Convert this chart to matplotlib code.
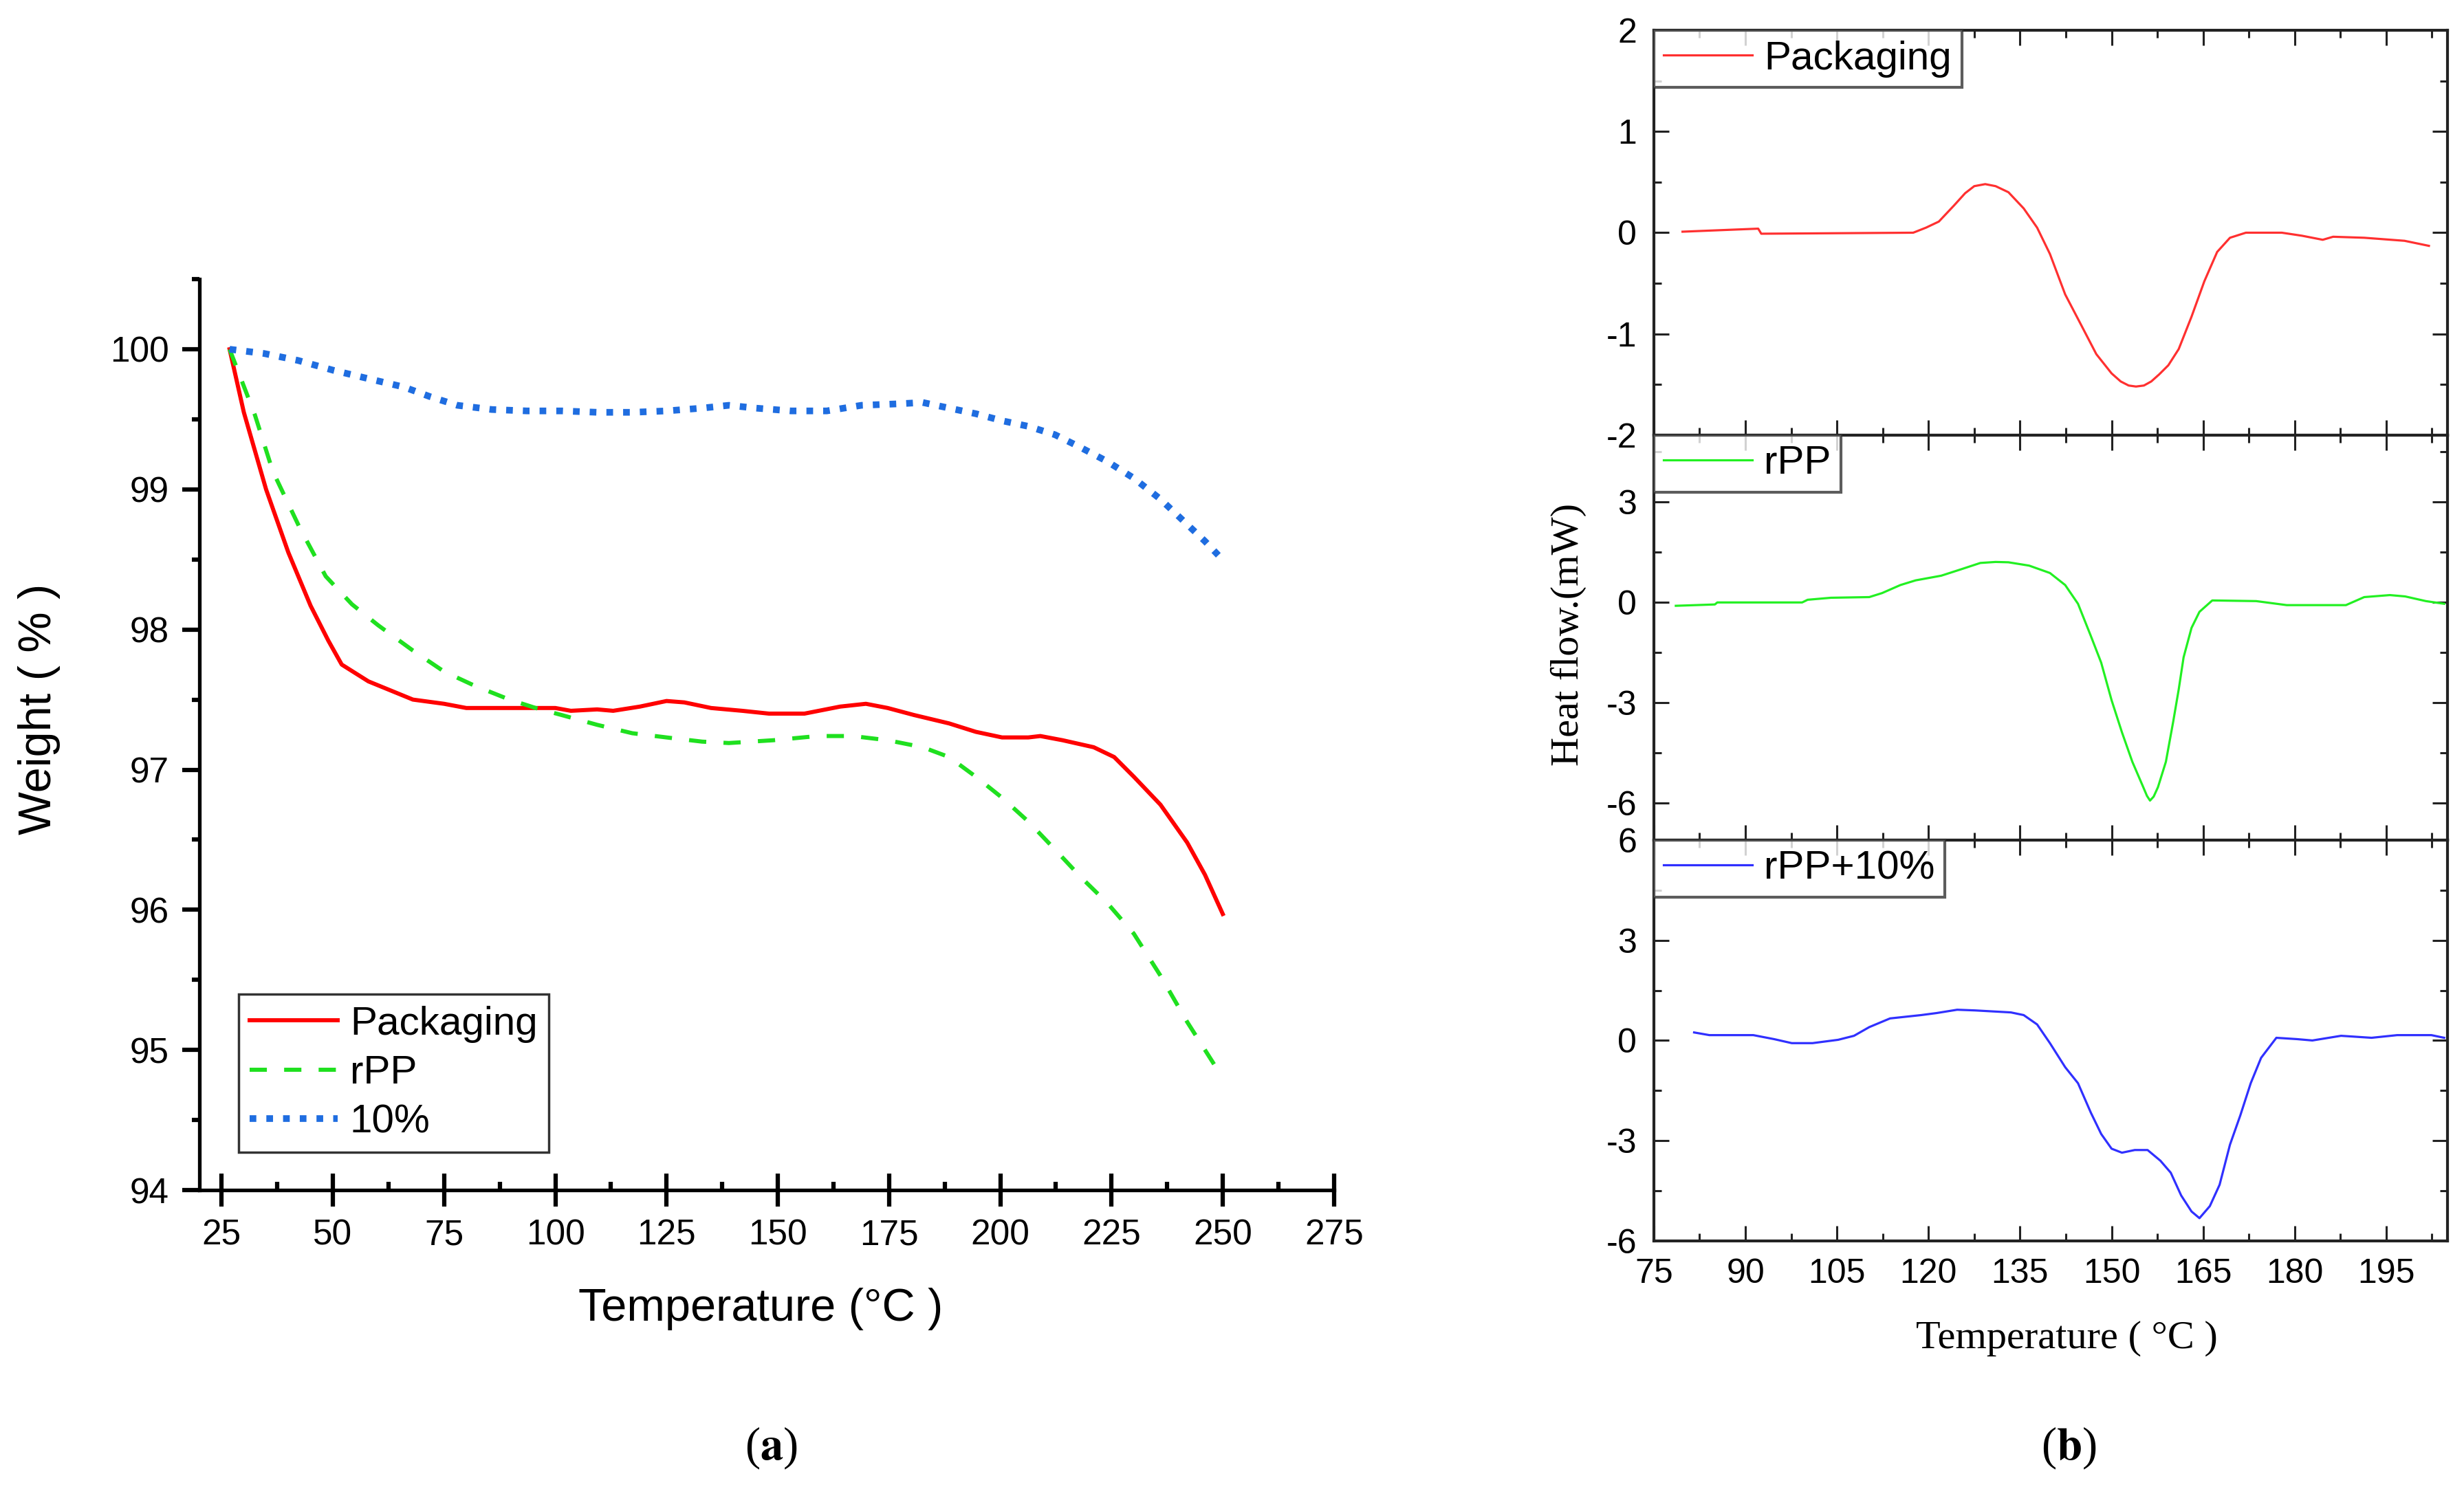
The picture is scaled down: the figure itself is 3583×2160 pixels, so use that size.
import numpy as np
import matplotlib
matplotlib.use("Agg")
import matplotlib.pyplot as plt
from matplotlib.ticker import MultipleLocator

plt.rcParams['axes.unicode_minus'] = False
plt.rcParams['mathtext.fontset'] = 'stix'

SANS = 'Liberation Sans'
SERIF = 'Liberation Serif'

# ---- (a) TGA data ----
pack_t = [26.8, 30, 35, 40, 45, 49, 52, 58, 68, 75, 80, 90, 100, 103.5, 109.4, 113, 119, 125,
          129, 135, 142, 148, 156, 164, 169.8, 174.7, 180.6, 188.5, 194.5, 200.4, 206.3, 209,
          214, 221, 225.6, 230, 236, 242, 246, 250]
pack_w = [100.0, 99.55, 99.0, 98.55, 98.17, 97.92, 97.75, 97.63, 97.5, 97.47, 97.44, 97.44, 97.44,
          97.42, 97.43, 97.42, 97.45, 97.49, 97.48, 97.44, 97.42, 97.40, 97.40, 97.45, 97.47,
          97.44, 97.39, 97.33, 97.27, 97.23, 97.23, 97.24, 97.21, 97.16, 97.09, 96.95, 96.75,
          96.48, 96.25, 95.97]

rpp_t = [26.8, 32.5, 36.5, 42.5, 48.4, 54.3, 60.2, 68, 75, 81.8, 89.7, 95.6, 101.4, 109.4, 117.3,
         125, 133, 139, 149, 158.9, 166.8, 174.7, 182.6, 188.5, 194.5, 200.4, 206.3, 212.3,
         218.2, 224, 230, 236, 242, 246, 250]
rpp_w = [100.0, 99.53, 99.13, 98.73, 98.38, 98.18, 98.03, 97.85, 97.70, 97.6, 97.5, 97.44, 97.39,
         97.32, 97.26, 97.23, 97.20, 97.19, 97.21, 97.24, 97.24, 97.21, 97.16, 97.09, 96.95,
         96.80, 96.63, 96.43, 96.23, 96.05, 95.83, 95.53, 95.2, 95.0, 94.8]

ten_t = [26.8, 34.5, 42.2, 50.1, 58, 66, 72, 78, 85.7, 93.6, 101.5, 109.5, 117.3, 125, 133, 139,
         145, 153, 161, 168.8, 176.7, 182.6, 188.5, 194.5, 200.4, 206.3, 212.3, 218, 224, 230,
         236, 242, 246, 249]
ten_w = [100.0, 99.97, 99.92, 99.85, 99.79, 99.73, 99.66, 99.6, 99.57, 99.56, 99.56, 99.55, 99.55,
         99.56, 99.58, 99.6, 99.58, 99.56, 99.56, 99.6, 99.61, 99.62, 99.58, 99.54, 99.49, 99.45,
         99.39, 99.30, 99.2, 99.08, 98.93, 98.75, 98.63, 98.53]

# ---- (b) DSC data ----
dsc_pack_t = [79.7, 92.1, 92.6, 117.5, 119.6, 121.7, 124.2, 126, 127.5, 129.3, 131, 133.1, 135.6,
              137.8, 139.9, 142.4, 145, 147.5, 150, 151.5, 152.8, 154, 155.3, 156.5, 157.8,
              159.3, 161, 163.1, 165.2, 167.3, 169.4, 172, 177.9, 181.2, 184.6, 186.3, 191.4,
              198, 202]
dsc_pack_h = [0.01, 0.04, -0.01, 0.0, 0.05, 0.11, 0.27, 0.39, 0.46, 0.48, 0.46, 0.40, 0.24, 0.05,
              -0.21, -0.61, -0.91, -1.2, -1.39, -1.47, -1.51, -1.52, -1.51, -1.47, -1.40, -1.31,
              -1.15, -0.83, -0.48, -0.19, -0.05, 0.0, 0.0, -0.03, -0.07, -0.04, -0.05, -0.08,
              -0.13]

dsc_rpp_t = [78.6, 85, 85.4, 99.3, 100.2, 104, 110.3, 112.4, 115.4, 117.9, 122.1, 125.5, 128.5,
             131, 133.1, 136.5, 139.9, 142.4, 144.5, 146.6, 148.3, 150, 151.7, 153.4, 155.1, 155.8,
             156.3, 156.9, 157.6, 158.9, 160.1, 161, 161.8, 163.1, 164.4, 166.5, 173.7, 178.7,
             188.4, 191.4, 195.6, 198.1, 201.5, 204.5]
dsc_rpp_h = [-0.1, -0.06, 0.0, 0.0, 0.08, 0.14, 0.16, 0.28, 0.52, 0.66, 0.8, 1.0, 1.18, 1.21, 1.2,
             1.1, 0.88, 0.52, -0.04, -1.0, -1.8, -2.92, -3.88, -4.76, -5.48, -5.78, -5.92, -5.8,
             -5.52, -4.76, -3.56, -2.6, -1.64, -0.76, -0.28, 0.06, 0.04, -0.08, -0.08, 0.16, 0.22,
             0.18, 0.04, -0.04]

dsc_ten_t = [81.6, 84.1, 91.3, 94.7, 97.6, 101, 105.2, 107.8, 110.3, 113.7, 118.8, 121.3, 124.7,
             127.6, 133.5, 135.6, 137.8, 139.9, 142.4, 144.5, 146.6, 148.3, 150, 151.7, 153.8,
             155.9, 158, 159.7, 161.4, 163.1, 164.4, 166.1, 167.7, 169.4, 171.1, 172.8, 174.5,
             177, 180.4, 182.9, 187.6, 192.6, 196.8, 202.4, 204.5]
dsc_ten_h = [0.24, 0.16, 0.16, 0.04, -0.08, -0.08, 0.02, 0.14, 0.4, 0.66, 0.76, 0.82, 0.92, 0.9,
             0.84, 0.76, 0.48, -0.08, -0.8, -1.28, -2.16, -2.8, -3.24, -3.36, -3.28, -3.28, -3.6,
             -3.96, -4.64, -5.12, -5.32, -4.96, -4.32, -3.12, -2.24, -1.28, -0.52, 0.08, 0.04,
             0.0, 0.14, 0.08, 0.16, 0.16, 0.08]

fig = plt.figure(figsize=(35.83, 21.6), dpi=100)

# ================= (a) =================
ax = fig.add_axes([0.0809, 0.1986, 0.4605, 0.6134])
ax.plot(pack_t, pack_w, color='#ff0000', lw=4.3, label='Packaging')
ax.plot(rpp_t, rpp_w, color='#1fe01f', lw=4.3, dashes=[4.2, 4.2], label='rPP')
ax.plot(ten_t, ten_w, color='#1f6de0', lw=7, dashes=[1, 1.5], label='10%')
ax.set_xlim(20, 275)
ax.set_ylim(94, 100.5)
for s in ['top', 'right']:
    ax.spines[s].set_visible(False)
for s in ['left', 'bottom']:
    ax.spines[s].set_linewidth(3.8)
ax.xaxis.set_major_locator(MultipleLocator(25))
ax.xaxis.set_minor_locator(MultipleLocator(12.5))
ax.yaxis.set_major_locator(MultipleLocator(1))
ax.yaxis.set_minor_locator(MultipleLocator(0.5))
ax.set_xticks(np.arange(25, 276, 25))
ax.tick_params(axis='x', which='major', direction='inout', length=34, width=4.5, pad=13)
ax.tick_params(axis='x', which='minor', direction='in', length=9, width=4.5)
ax.tick_params(axis='y', which='major', direction='out', length=18, width=4.5, pad=14)
ax.tick_params(axis='y', which='minor', direction='out', length=8, width=4.5)
for lab in ax.get_xticklabels() + ax.get_yticklabels():
    lab.set_fontfamily(SANS)
    lab.set_fontsize(37)
leg = ax.legend(loc='lower left', bbox_to_anchor=(0.0344, 0.0415), borderaxespad=0,
                prop={'family': SANS, 'size': 42}, frameon=True, fancybox=False,
                handlelength=2.2, handletextpad=0.3, borderpad=0.28, labelspacing=0.3)
leg.get_frame().set_edgecolor('black')
leg.get_frame().set_linewidth(2.5)

fig.text(0.3087, 0.1185, 'Temperature (°C )', family=SANS, fontsize=48, ha='center', va='center')
fig.text(0.0159, 0.5227, 'Weight ( % )', family=SANS, fontsize=48, ha='center', va='center',
         rotation=90)
fig.text(0.3131, 0.025, r'($\mathbf{a}$)', family=SERIF, fontsize=48, ha='center', va='center')

# ================= (b) =================
panels = [
    (dsc_pack_t, dsc_pack_h, '#ff3030', 'Packaging', (-2, 2), 1, 0.5),
    (dsc_rpp_t, dsc_rpp_h, '#22f022', 'rPP', (-7.1, 5.0), 3, 1.5),
    (dsc_ten_t, dsc_ten_h, '#3030ff', 'rPP+10%', (-6, 6), 3, 1.5),
]
left, right = 0.6712, 0.9932
tops = [0.9796, 0.7070, 0.4343]
bottoms = [0.7070, 0.4343, 0.1644]
for i, (t, h, col, lab, ylim, maj, mnr) in enumerate(panels):
    a = fig.add_axes([left, bottoms[i], right - left, tops[i] - bottoms[i]])
    a.plot(t, h, color=col, lw=2.3, label=lab)
    a.set_xlim(75, 205)
    a.set_ylim(*ylim)
    a.xaxis.set_major_locator(MultipleLocator(15))
    a.xaxis.set_minor_locator(MultipleLocator(7.5))
    a.yaxis.set_major_locator(MultipleLocator(maj))
    a.yaxis.set_minor_locator(MultipleLocator(mnr))
    for s in a.spines.values():
        s.set_linewidth(3)
        s.set_edgecolor('#222222')
    a.tick_params(which='both', direction='in', top=True, right=True, width=2.2,
                  color='#222222')
    a.tick_params(which='major', length=16)
    a.tick_params(which='minor', length=8)
    a.tick_params(axis='y', which='major', pad=18, labelsize=36)
    a.tick_params(axis='x', which='major', pad=18, labelsize=36)
    if i < 2:
        a.tick_params(axis='x', labelbottom=False)
    for tl in a.get_xticklabels() + a.get_yticklabels():
        tl.set_fontfamily(SANS)
    lg = a.legend(loc='upper left', bbox_to_anchor=(0, 1), borderaxespad=0,
                  prop={'family': SANS, 'size': 42}, frameon=True, fancybox=False,
                  handlelength=2.2, handletextpad=0.3, borderpad=0.25)
    lg.get_frame().set_edgecolor('#333333')
    lg.get_frame().set_linewidth(3)

fig.text(0.6366, 0.5727, 'Heat flow.(mW)', family=SERIF, fontsize=42, ha='center', va='center',
         rotation=90)
fig.text(0.8387, 0.0986, 'Temperature ( °C )', family=SERIF, fontsize=42, ha='center',
         va='center')
fig.text(0.8396, 0.025, r'($\mathbf{b}$)', family=SERIF, fontsize=48, ha='center', va='center')

fig.savefig('out.png', dpi=100)
